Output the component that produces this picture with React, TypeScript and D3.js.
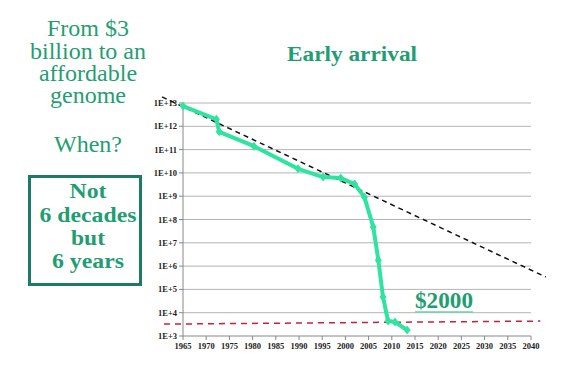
import React from "react";
import * as d3 from "d3";

const years = [1965, 1972.2, 1972.8, 1980.3, 1989.8, 1995.2, 1999, 2002, 2004.1, 2006, 2007.1, 2008.1, 2009.2, 2010.7, 2013.3];
const costs = [7.4e12, 2.0e12, 5.8e11, 1.4e11, 1.5e10, 6.6e9, 6.0e9, 3.3e9, 9.1e8, 4.8e7, 1.8e6, 4.7e4, 4.4e3, 4.0e3, 1.8e3];
const trendYears = [1960.5, 2043.2];
const trendCosts = [1.82e13, 3.4e5];
const targetYears = [1960.9, 2042];
const targetCosts = [3.24e3, 4.37e3];
const xTicks = d3.range(1965, 2041, 5);
const yTicks = [1e3, 1e4, 1e5, 1e6, 1e7, 1e8, 1e9, 1e10, 1e11, 1e12, 1e13];
const leftLines = ["From $3", "billion to an", "affordable", "genome"];
const leftBaselines = [36, 59, 81, 103];
const boxLines = ["Not", "6 decades", "but", "6 years"];
const boxBaselines = [198, 222, 245, 268];
const boxWidths = [37, 97, 34, 72];

const TEXT_GREEN = "#1f9e72";

export default function App() {
  const x = d3.scaleLinear().domain([1965, 2040]).range([183, 531]);
  const y = d3.scaleLog().domain([1e3, 1e13]).range([336, 103]);
  const line = d3.line<number>().x((d, i) => x(years[i])).y((d) => y(d));
  const pts = costs.map((c, i) => [x(years[i]), y(c)]);
  const fmt = (v: number) => "1E+" + Math.round(Math.log10(v));

  return (
    <svg width={569} height={371} fontFamily="serif" style={{ position: "absolute", left: 0, top: 0, fontFamily: "serif" }}>
      <rect x={0} y={0} width={569} height={371} fill="#fff" />
      {leftLines.map((t, i) => (
        <text key={t} x={88} y={leftBaselines[i]} textAnchor="middle" fontSize={24} fill={TEXT_GREEN}>{t}</text>
      ))}
      <text x={88} y={152} textAnchor="middle" fontSize={24} fill={TEXT_GREEN}>When?</text>
      <rect x={29.5} y={176.5} width={111} height={108} fill="none" stroke="#1d7a64" strokeWidth={3} />
      {boxLines.map((t, i) => (
        <text key={t} x={88} y={boxBaselines[i]} textAnchor="middle" fontSize={20} fontWeight="bold" fill={TEXT_GREEN}
          textLength={boxWidths[i]} lengthAdjust="spacingAndGlyphs">{t}</text>
      ))}
      <text x={352} y={61} textAnchor="middle" fontSize={20} fontWeight="bold" fill={TEXT_GREEN} textLength={130} lengthAdjust="spacingAndGlyphs">Early arrival</text>
      {yTicks.map((v) => (
        <g key={v}>
          {v > 1e3 && <line x1={183} x2={531} y1={y(v)} y2={y(v)} stroke="#b4b4b4" strokeWidth={1} />}
          <line x1={179} x2={183} y1={y(v)} y2={y(v)} stroke="#888" strokeWidth={1} />
          <text x={177} y={y(v) + 3} textAnchor="end" fontSize={8.5} fontWeight="bold" fill="#222">{fmt(v)}</text>
        </g>
      ))}
      <line x1={183} x2={183} y1={103} y2={336} stroke="#888" strokeWidth={1} />
      <line x1={183} x2={531} y1={336} y2={336} stroke="#888" strokeWidth={1} />
      {xTicks.map((t) => (
        <g key={t}>
          <line x1={x(t)} x2={x(t)} y1={336} y2={340} stroke="#888" strokeWidth={1} />
          <text x={x(t)} y={349} textAnchor="middle" fontSize={8.5} fontWeight="bold" fill="#222">{t}</text>
        </g>
      ))}
      <line x1={x(trendYears[0])} y1={y(trendCosts[0])} x2={x(trendYears[1])} y2={y(trendCosts[1])} stroke="#111" strokeWidth={1.5} strokeDasharray="5,4" />
      <line x1={x(targetYears[0])} y1={y(targetCosts[0])} x2={x(targetYears[1])} y2={y(targetCosts[1])} stroke="#c8203c" strokeWidth={1.5} strokeDasharray="6,5" />
      <path d={line(costs) || ""} fill="none" stroke="#2fe3a0" strokeWidth={4} strokeLinejoin="round" strokeLinecap="round" />
      {pts.map(([px, py], i) => (
        <path key={i} d={`M${px},${py - 4.5}L${px + 3.5},${py}L${px},${py + 4.5}L${px - 3.5},${py}Z`} fill="#2fe3a0" />
      ))}
      <text x={444} y={308} textAnchor="middle" fontSize={23} fontWeight="bold" fill={TEXT_GREEN} textLength={58} lengthAdjust="spacingAndGlyphs">$2000</text>
      <line x1={415} x2={473} y1={312} y2={312} stroke="#6fcfa6" strokeWidth={1.5} />
    </svg>
  );
}
